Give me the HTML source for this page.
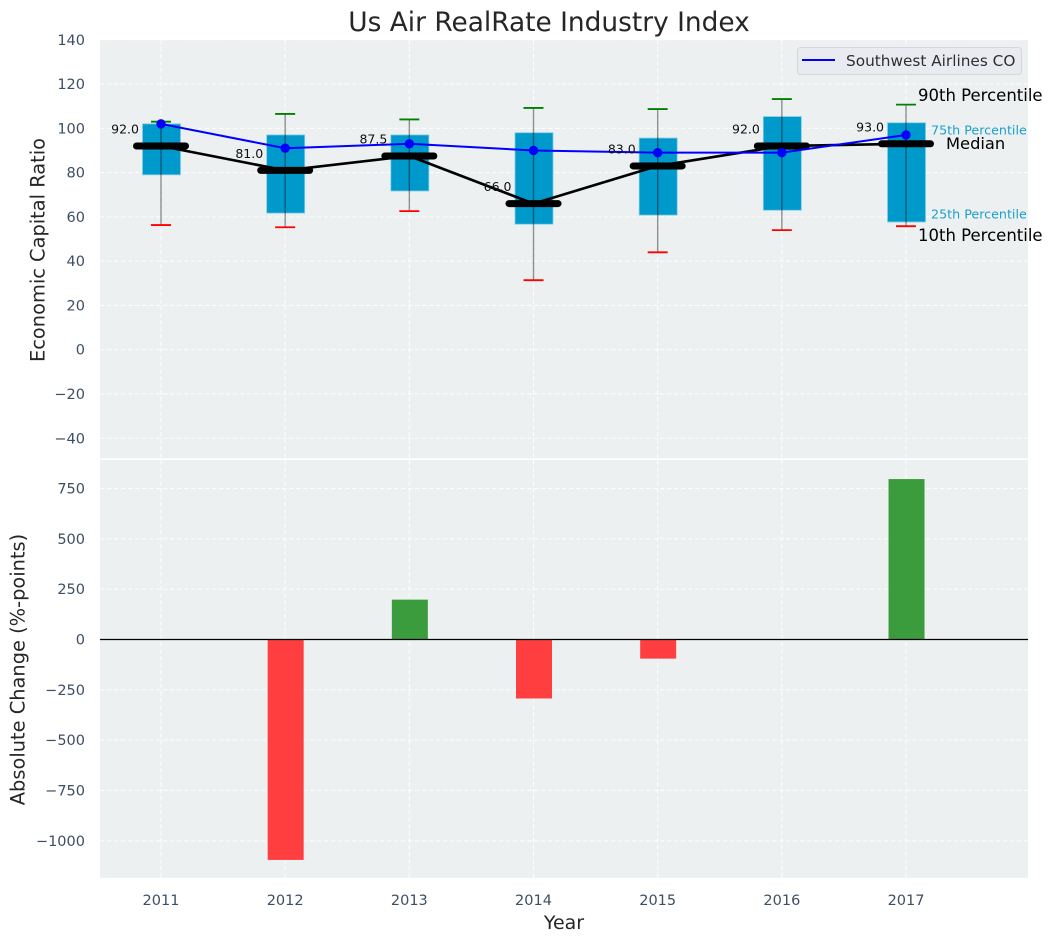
<!DOCTYPE html>
<html lang="en">
<head>
<meta charset="utf-8">
<title>Us Air RealRate Industry Index</title>
<style>
html,body{margin:0;padding:0;background:#fff;width:1053px;height:942px;overflow:hidden}
svg{display:block;font-family:"DejaVu Sans","Liberation Sans",sans-serif}
</style>
</head>
<body>
<svg id="chart" xmlns="http://www.w3.org/2000/svg" width="1053" height="942" viewBox="0 0 1053 942">
  <rect x="100" y="40" width="928" height="418.3" fill="#ecf0f1"/>
  <rect x="100" y="460" width="928" height="417.8" fill="#ecf0f1"/>
  <g id="grid"></g>
  <g id="bars"></g>
  <g id="boxes"></g>
  <g id="lines"></g>
  <g id="labels"></g>
  <g id="ticks"></g>

  <text x="549" y="31" text-anchor="middle" font-size="26.4" fill="#262626">Us Air RealRate Industry Index</text>
  <text transform="translate(44.5,250) rotate(-90)" text-anchor="middle" font-size="19.4" fill="#262626">Economic Capital Ratio</text>
  <text transform="translate(24.5,669.5) rotate(-90)" text-anchor="middle" font-size="19.4" fill="#262626">Absolute Change (%-points)</text>
  <text x="564" y="929" text-anchor="middle" font-size="19" fill="#262626">Year</text>

  <g>
    <rect x="797.5" y="47.5" width="224" height="27" rx="3" fill="#e9ebf0" stroke="#d4d7da" stroke-width="1"/>
    <line x1="802" y1="60" x2="835" y2="60" stroke="#0000ff" stroke-width="2"/>
    <text x="846" y="66" font-size="15.3" fill="#2f2f2f">Southwest Airlines CO</text>
  </g>

  <text id="note-p90" x="918" font-size="16.5" fill="#000">90th Percentile</text>
  <text id="note-p75" x="931" font-size="12.7" fill="#1a9fcb">75th Percentile</text>
  <text id="note-median" x="946" font-size="16.3" fill="#000">Median</text>
  <text id="note-p25" x="931" font-size="12.7" fill="#1a9fcb">25th Percentile</text>
  <text id="note-p10" x="918" font-size="16.5" fill="#000">10th Percentile</text>
</svg>
<script>
const years = [2011, 2012, 2013, 2014, 2015, 2016, 2017];
const p90 = [103, 106.5, 104, 109.2, 108.7, 113.2, 110.7];
const p75 = [102, 97, 97, 98, 95.6, 105.3, 102.5];
const medians = [92, 81, 87.5, 66, 83, 92, 93];
const p25 = [79, 61.7, 71.7, 56.7, 60.8, 63, 57.7];
const p10 = [56.3, 55.3, 62.6, 31.4, 44, 54, 55.8];
const southwest = [102, 91, 93, 90, 89, 89, 97];
const changes = [0, -1095, 198, -293, -95, 0, 797];
const topTicks = [140, 120, 100, 80, 60, 40, 20, 0, -20, -40];
const bottomTicks = [750, 500, 250, 0, -250, -500, -750, -1000];

const NS = 'http://www.w3.org/2000/svg';
const xOf = v => 161 + (v - 2011) * 124.17;
const yTop = v => 349.7 - v * 2.2139;
const yBot = v => 639.5 - v * 0.2013;
const fmt = v => String(v).replace('-', '\u2212');

function make(parent, tag, attrs, text) {
  const el = document.createElementNS(NS, tag);
  for (const k in attrs) el.setAttribute(k, attrs[k]);
  if (text !== undefined) el.textContent = text;
  parent.appendChild(el);
  return el;
}
const grid = document.getElementById('grid');
const bars = document.getElementById('bars');
const boxes = document.getElementById('boxes');
const lines = document.getElementById('lines');
const labels = document.getElementById('labels');
const ticks = document.getElementById('ticks');
const dash = {stroke: '#ffffff', 'stroke-width': 1.1, 'stroke-dasharray': '4.5 2.5', 'stroke-opacity': 0.85};

topTicks.forEach(t => {
  const g = make(grid, 'line', Object.assign({x1: 100, x2: 1028, y1: yTop(t), y2: yTop(t)}, dash));
  
  
  const l = make(ticks, 'text', {x: 85, y: yTop(t) + 5, 'text-anchor': 'end', 'font-size': 14.5, fill: '#3c4f63'}, fmt(t));
  
  
});
bottomTicks.forEach(t => {
  const g = make(grid, 'line', Object.assign({x1: 100, x2: 1028, y1: yBot(t), y2: yBot(t)}, dash));
  
  
  const l = make(ticks, 'text', {x: 85, y: yBot(t) + 5, 'text-anchor': 'end', 'font-size': 14.5, fill: '#3c4f63'}, fmt(t));
  
  
});

years.forEach((yr, i) => {
  const x = xOf(yr);
  const g1 = make(grid, 'line', Object.assign({x1: x, x2: x, y1: 40, y2: 458.3}, dash));
  
  
  const g2 = make(grid, 'line', Object.assign({x1: x, x2: x, y1: 460, y2: 877.8}, dash));
  
  
  const tl = make(ticks, 'text', {x: x, y: 905, 'text-anchor': 'middle', 'font-size': 14.5, fill: '#3c4f63'}, String(yr));
  
  

  if (changes[i] !== 0) {
    const y0 = yBot(Math.max(changes[i], 0));
    const y1 = yBot(Math.min(changes[i], 0));
    const bar = make(bars, 'rect', {x: x - 17.5, y: y0, width: 36, height: y1 - y0, fill: changes[i] > 0 ? '#3b9c3d' : '#ff3f3f'});
    
    
  }

  const box = make(boxes, 'rect', {x: x - 18.5, y: yTop(p75[i]), width: 38, height: yTop(p25[i]) - yTop(p75[i]), fill: '#0099cc', stroke: '#7fcbe4', 'stroke-width': 0.8});
  
  
  const whisker = make(boxes, 'line', {x1: x, x2: x, y1: yTop(p90[i]), y2: yTop(p10[i]), stroke: '#000', 'stroke-opacity': 0.42, 'stroke-width': 1.4});
  
  
  const capHi = make(boxes, 'line', {x1: x - 10, x2: x + 10, y1: yTop(p90[i]), y2: yTop(p90[i]), stroke: '#008000', 'stroke-width': 1.8});
  
  
  const capLo = make(boxes, 'line', {x1: x - 10, x2: x + 10, y1: yTop(p10[i]), y2: yTop(p10[i]), stroke: '#ff0000', 'stroke-width': 1.8});
  
  
  const med = make(lines, 'line', {x1: x - 24.5, x2: x + 24.5, y1: yTop(medians[i]), y2: yTop(medians[i]), stroke: '#000', 'stroke-width': 7, 'stroke-linecap': 'round'});
  
  

  const ml = make(labels, 'text', {x: x - 22, y: yTop(medians[i]) - 12.5, 'text-anchor': 'end', 'font-size': 12.5, fill: '#111'}, medians[i].toFixed(1));
  
  
});

const medianPath = make(lines, 'polyline', {points: years.map((yr, i) => xOf(yr) + ',' + yTop(medians[i])).join(' '), fill: 'none', stroke: '#000', 'stroke-width': 2.6});


const swPath = make(lines, 'polyline', {points: years.map((yr, i) => xOf(yr) + ',' + yTop(southwest[i])).join(' '), fill: 'none', stroke: '#0000ff', 'stroke-width': 2});


years.forEach((yr, i) => {
  const pt = make(lines, 'circle', {cx: xOf(yr), cy: yTop(southwest[i]), r: 4.7, fill: '#0000ff'});
  
  
});

const zero = make(bars, 'line', {x1: 100, x2: 1028, y1: yBot(0), y2: yBot(0), stroke: '#000', 'stroke-width': 1.2});



const last = years.length - 1;
document.getElementById('note-p90').setAttribute('y', yTop(p90[last]) - 3.5);
document.getElementById('note-p75').setAttribute('y', yTop(p75[last]) + 11.5);
document.getElementById('note-median').setAttribute('y', yTop(medians[last]) + 5);
document.getElementById('note-p25').setAttribute('y', yTop(p25[last]) - 3.5);
document.getElementById('note-p10').setAttribute('y', yTop(p10[last]) + 15);
</script>
</body>
</html>
